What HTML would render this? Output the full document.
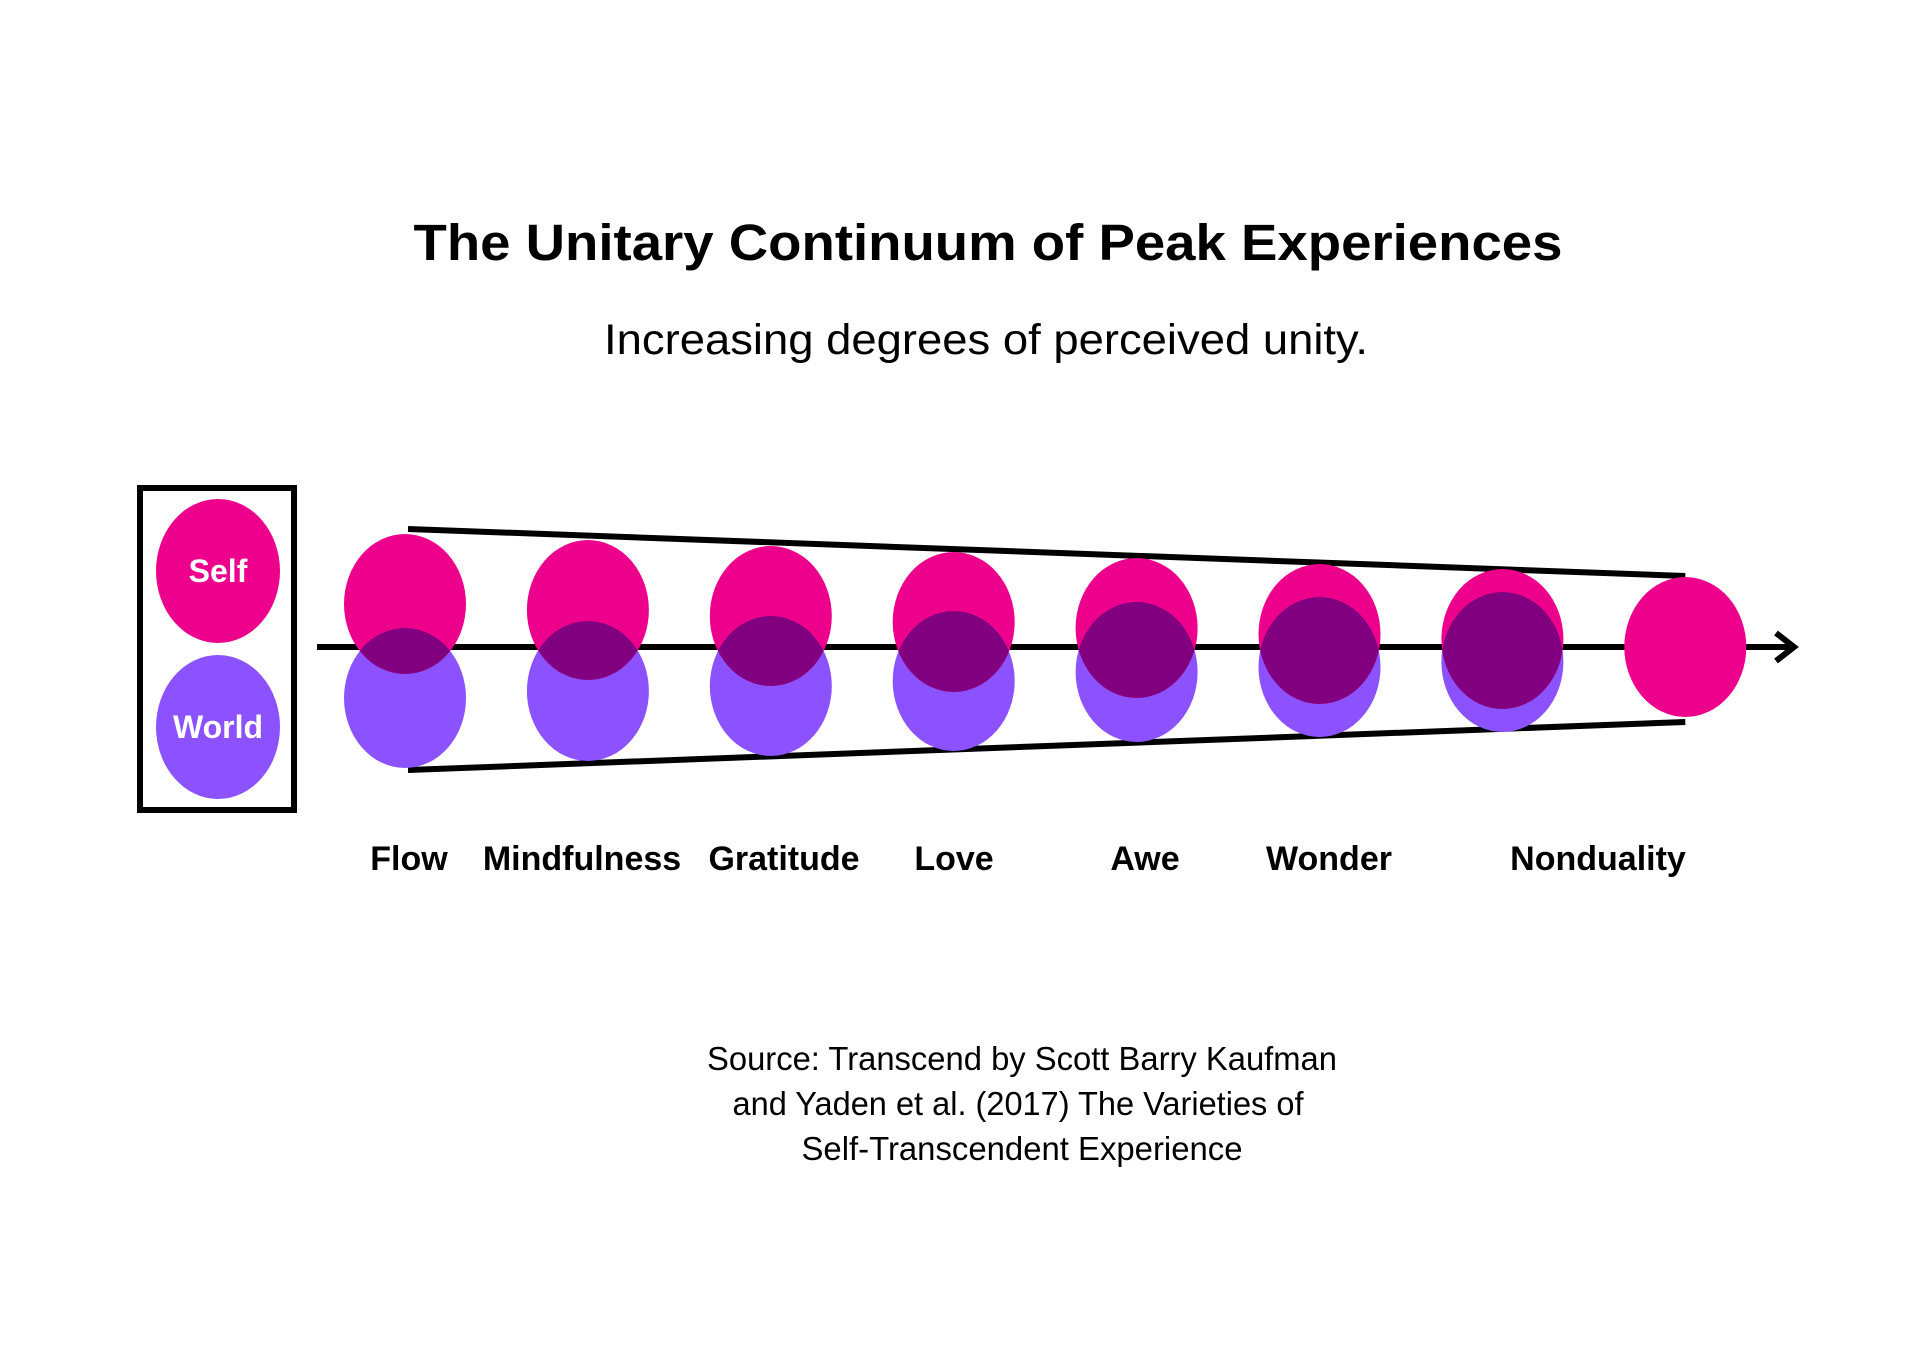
<!DOCTYPE html>
<html><head><meta charset="utf-8"><style>
html,body{margin:0;padding:0;background:#fff;}
svg{display:block;}
text{font-family:"Liberation Sans",sans-serif;}
</style></head><body>
<svg id="chart" width="1920" height="1366" viewBox="0 0 1920 1366" xmlns="http://www.w3.org/2000/svg">
<rect width="1920" height="1366" fill="#fff"/>
<text x="988" y="260" text-anchor="middle" font-size="51" font-weight="bold" textLength="1149" lengthAdjust="spacingAndGlyphs">The Unitary Continuum of Peak Experiences</text>
<text x="986" y="354" text-anchor="middle" font-size="43" textLength="764" lengthAdjust="spacingAndGlyphs">Increasing degrees of perceived unity.</text>
<g>
<rect x="140" y="488" width="154" height="322" fill="none" stroke="#000" stroke-width="6"/>
<ellipse cx="218" cy="571" rx="62" ry="72" fill="#ec008c"/>
<text x="218" y="582" text-anchor="middle" fill="#fff" font-size="32" font-weight="bold">Self</text>
<ellipse cx="218" cy="727" rx="62" ry="72" fill="#8c52ff"/>
<text x="218" y="738" text-anchor="middle" fill="#fff" font-size="32" font-weight="bold">World</text>
</g>
<defs id="defs"></defs>
<g id="marks"></g>
<g font-size="33">
<text x="1022" y="1070" text-anchor="middle" textLength="630" lengthAdjust="spacingAndGlyphs">Source: Transcend by Scott Barry Kaufman</text>
<text x="1018" y="1115" text-anchor="middle" textLength="571" lengthAdjust="spacingAndGlyphs">and Yaden et al. (2017) The Varieties of</text>
<text x="1022" y="1160" text-anchor="middle" textLength="441" lengthAdjust="spacingAndGlyphs">Self-Transcendent Experience</text>
</g>
</svg>
<script>
const categories = ["Flow","Mindfulness","Gratitude","Love","Awe","Wonder","","Nonduality"];
const selfOffset = [-43,-37,-31,-25,-19,-13,-8,0];
const worldOffset = [51,44,39,34,25,20,15,0];
const labelX = [409,582,784,954,1145,1329,null,1598];
const NS="http://www.w3.org/2000/svg";
const axisY=647, x0=405, step=182.9, RX=61, RY=70;
function xScale(i){return x0+i*step;}
function yScale(v){return axisY+v;}
const marks=document.getElementById('marks');
const defs=document.getElementById('defs');
function mk(tag,attrs,parent){const e=document.createElementNS(NS,tag);for(const k in attrs)e.setAttribute(k,attrs[k]);(parent||marks).appendChild(e);return e;}
const ax=mk('line',{x1:317,y1:axisY,x2:1790,y2:axisY,stroke:'#000','stroke-width':6});


const ah=mk('path',{d:`M1776 ${axisY-14} L1794 ${axisY} L1776 ${axisY+14}`,fill:'none',stroke:'#000','stroke-width':6});


const n=categories.length-1;
const ft=mk('line',{x1:xScale(0)+3,y1:yScale(selfOffset[0])-75,x2:xScale(n),y2:yScale(selfOffset[n])-71,stroke:'#000','stroke-width':6});


const fb=mk('line',{x1:xScale(0)+3,y1:yScale(worldOffset[0])+72,x2:xScale(n),y2:yScale(worldOffset[n])+75,stroke:'#000','stroke-width':6});


categories.forEach((c,i)=>{
  const cx=xScale(i), sy=yScale(selfOffset[i]), wy=yScale(worldOffset[i]);
  const g=mk('g',{});
  
  
  if(i<n){
    const w=mk('ellipse',{cx:cx,cy:wy,rx:RX,ry:RY,fill:'#8c52ff'},g);
    
    
  }
  const s=mk('ellipse',{cx:cx,cy:sy,rx:RX,ry:RY,fill:'#ec008c'},g);
  
  
  if(i<n){
    const cp=mk('clipPath',{id:'clip'+i},defs);
    mk('ellipse',{cx:cx,cy:wy,rx:RX,ry:RY},cp);
    const o=mk('ellipse',{cx:cx,cy:sy,rx:RX,ry:RY,fill:'#800080','clip-path':`url(#clip${i})`},g);
    
    
  }
  if(c){
    const t=mk('text',{x:labelX[i],y:870,'text-anchor':'middle','font-size':34,'font-weight':'bold'},g);
    t.textContent=c;
    
    
  }
});
</script>
</body></html>
